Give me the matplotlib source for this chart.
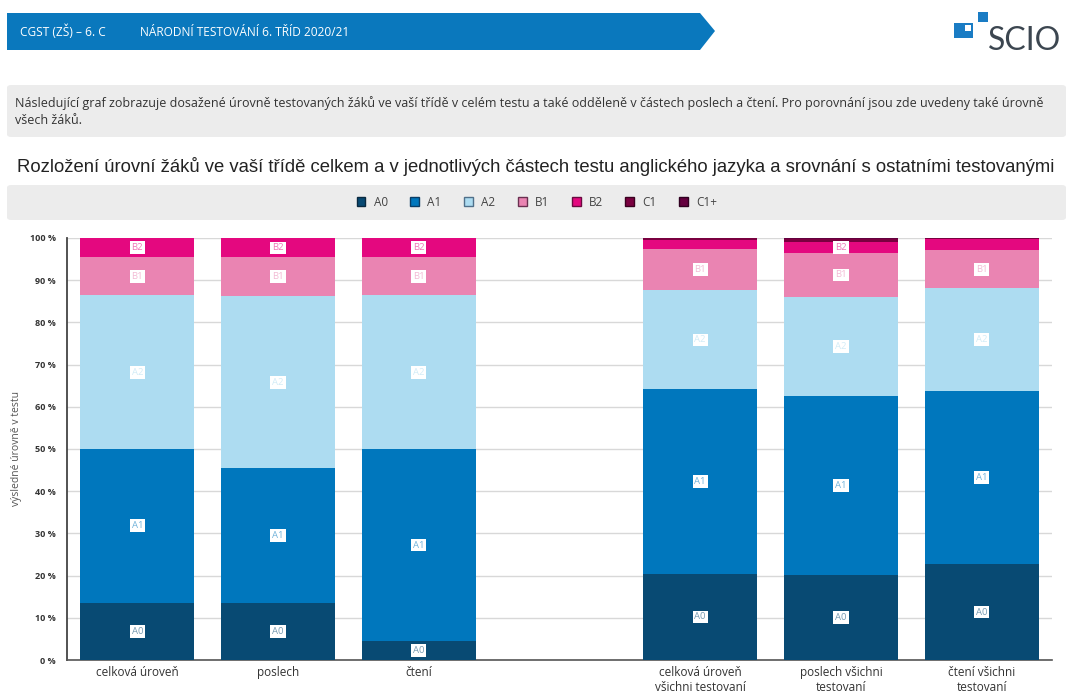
import numpy as np
import matplotlib.pyplot as plt
from matplotlib.patches import Patch, Polygon, Rectangle, FancyBboxPatch

plt.rcParams['font.family'] = ['Open Sans', 'DejaVu Sans']

# data (podíl žáků v %)
kategorie = ['celková úroveň', 'poslech', 'čtení',
             'celková úroveň\nvšichni testovaní', 'poslech všichni\ntestovaní',
             'čtení všichni\ntestovaní']
pozice = [0, 1, 2, 4, 5, 6]
urovne = ['A0', 'A1', 'A2', 'B1', 'B2', 'C1', 'C1+']
A0 = [13.6, 13.6, 4.5, 20.4, 20.1, 22.7]
A1 = [36.4, 31.8, 45.5, 43.7, 42.4, 41.1]
A2 = [36.4, 40.9, 36.4, 23.5, 23.6, 24.3]
B1 = [9.1, 9.1, 9.1, 9.9, 10.3, 9.0]
B2 = [4.5, 4.5, 4.5, 2.1, 2.7, 2.6]
C1 = [0, 0, 0, 0.3, 0.7, 0.2]
C1p = [0, 0, 0, 0.1, 0.2, 0.1]
barvy = ['#084a73', '#0077bd', '#addcf1', '#ea84b2', '#e4087f', '#7a0040', '#65003f']
okraje = ['#0a2a40', '#0a3d66', '#50708a', '#6a3050', '#6a0a40', '#3a0020', '#300020']

serie = [A0, A1, A2, B1, B2, C1, C1p]

W, H = 1066, 693
fig = plt.figure(figsize=(W / 100, H / 100), dpi=100)

def fx(px):
    return px / W

def fy(py):
    return 1 - py / H

# hlavicka
banner = Polygon([(fx(7), fy(13)), (fx(700), fy(13)), (fx(715), fy(31)),
                  (fx(700), fy(50)), (fx(7), fy(50))], closed=True,
                 facecolor='#0a78bd', edgecolor='none', transform=fig.transFigure)
fig.patches.append(banner)
fig.text(fx(20), fy(32), 'CGST (ZŠ) – 6. C', color='white', fontsize=8.6, va='center')
fig.text(fx(140), fy(32), 'NÁRODNÍ TESTOVÁNÍ 6. TŘÍD 2020/21', color='white', fontsize=8.6, va='center')

# logo
fig.patches.append(Rectangle((fx(954), fy(38)), fx(19), 15 / H, facecolor='#1a7cc4',
                             edgecolor='none', transform=fig.transFigure))
fig.patches.append(Rectangle((fx(965), fy(31)), fx(6), 6 / H, facecolor='white',
                             edgecolor='none', transform=fig.transFigure))
fig.patches.append(Rectangle((fx(978), fy(22)), fx(10), 10 / H, facecolor='#1a7cc4',
                             edgecolor='none', transform=fig.transFigure))
fig.text(fx(988), fy(50), 'SCIO', color='#3c4650', fontsize=23, va='baseline', family='Lato')

# popis
fig.patches.append(FancyBboxPatch((fx(7), fy(137)), fx(1059), 52 / H,
                                  boxstyle='round,pad=0,rounding_size=0.004',
                                  facecolor='#ececec', edgecolor='none', transform=fig.transFigure))
fig.text(fx(15), fy(103), 'Následující graf zobrazuje dosažené úrovně testovaných žáků ve vaší třídě v celém testu '
         'a také odděleně v částech poslech a čtení. Pro porovnání jsou zde uvedeny také úrovně',
         fontsize=9.0, color='#333333', va='center')
fig.text(fx(15), fy(121), 'všech žáků.', fontsize=9.0, color='#333333', va='center')

# titulek
fig.text(fx(536), fy(166), 'Rozložení úrovní žáků ve vaší třídě celkem a v jednotlivých částech testu '
         'anglického jazyka a srovnání s ostatními testovanými',
         fontsize=13.3, color='#222222', ha='center', va='center', family='Liberation Sans')

# legenda
fig.patches.append(FancyBboxPatch((fx(7), fy(220)), fx(1059), 35 / H,
                                  boxstyle='round,pad=0,rounding_size=0.004',
                                  facecolor='#ececec', edgecolor='none', transform=fig.transFigure))
handles = [Patch(facecolor=c, edgecolor=e, linewidth=1, label=u) for c, e, u in zip(barvy, okraje, urovne)]
fig.legend(handles=handles, loc='center', bbox_to_anchor=(fx(537), fy(202)), ncol=7, frameon=False,
           fontsize=8.5, handlelength=0.75, handleheight=0.75, handletextpad=0.7, columnspacing=1.9,
           labelcolor='#444444')

# graf
ax = fig.add_axes([fx(67), fy(660), fx(1052 - 67), (660 - 238) / H])

def svetlejsi(c, k=0.45):
    c = np.array(plt.matplotlib.colors.to_rgb(c))
    return tuple(c + (1 - c) * k)

spodek = np.zeros(len(pozice))
for hodnoty, barva, uroven in zip(serie, barvy, urovne):
    hodnoty = np.array(hodnoty)
    ax.bar(pozice, hodnoty, bottom=spodek, width=0.81, color=barva, edgecolor='none', zorder=3)
    for x, v, b in zip(pozice, hodnoty, spodek):
        if v >= 2.7:
            ax.text(x, b + v / 2, uroven, ha='center', va='center', fontsize=6.8,
                    color=svetlejsi(barva), zorder=4,
                    bbox=dict(boxstyle='square,pad=0.2', facecolor='white', edgecolor='none'))
    spodek += hodnoty

ax.set_xlim(-0.5, 6.5)
ax.set_ylim(0, 100)
ax.set_yticks(np.arange(0, 101, 10))
ax.set_yticklabels([f'{v} %' for v in range(0, 101, 10)], fontsize=6.5, fontweight='bold', color='#333333')
ax.set_xticks(pozice)
ax.set_xticklabels(kategorie, fontsize=8.5, color='#333333')
ax.tick_params(axis='y', length=0, pad=8)
ax.tick_params(axis='x', length=0, pad=4)
ax.grid(axis='y', color='#d8d8d8', linewidth=1, zorder=0)
ax.set_axisbelow(True)
for s in ['top', 'right']:
    ax.spines[s].set_visible(False)
ax.spines['left'].set_color('#444444')
ax.spines['left'].set_linewidth(1.3)
ax.spines['bottom'].set_color('#555555')
ax.spines['bottom'].set_linewidth(1.2)
ax.set_ylabel('výsledné úrovně v testu', fontsize=7.5, color='#555555', labelpad=6)

fig.savefig('out.png', dpi=100)
